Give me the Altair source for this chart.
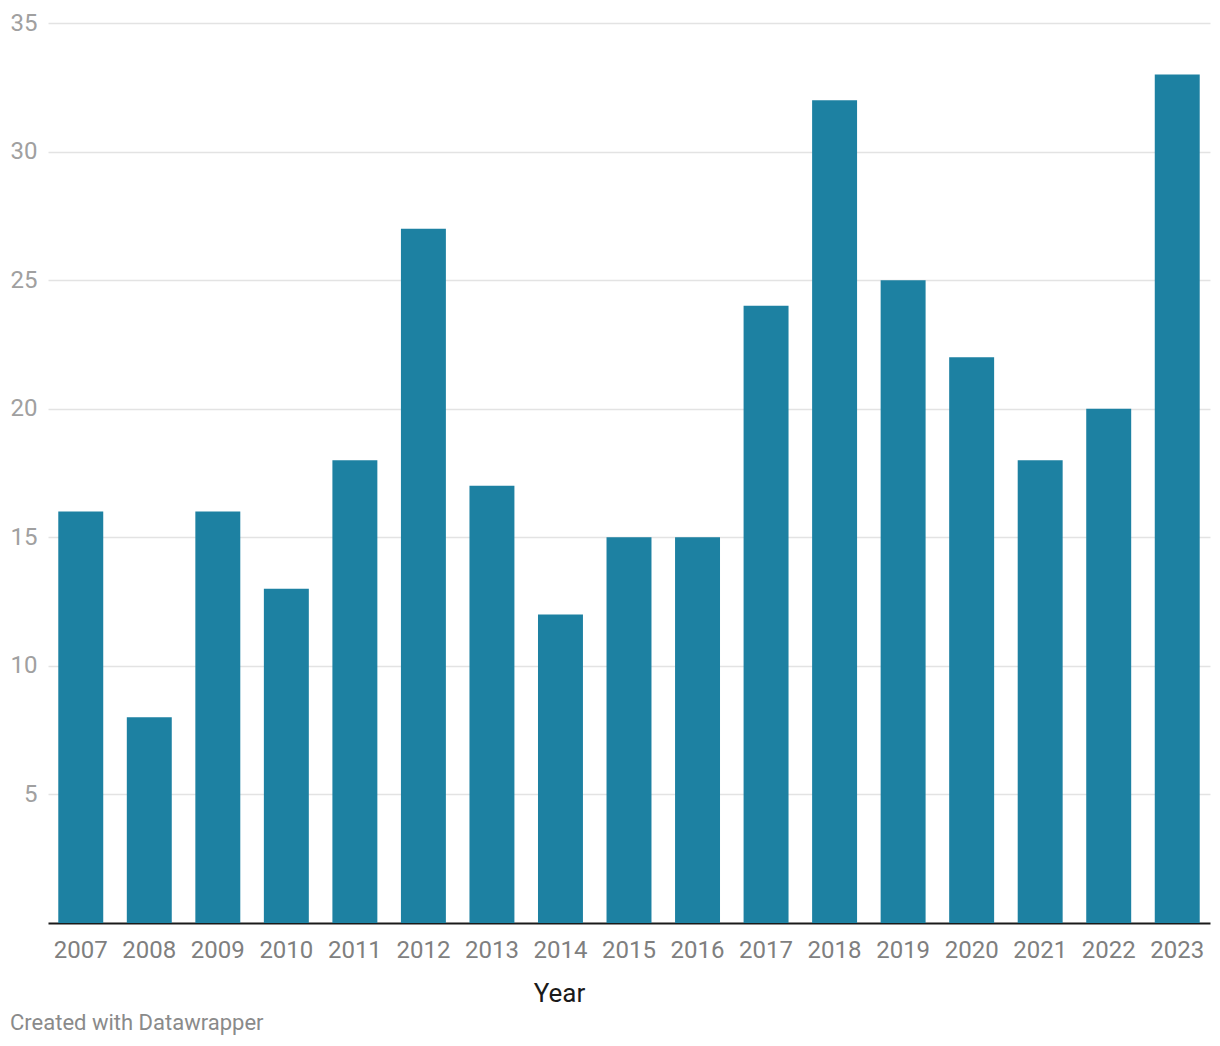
import altair as alt
import pandas as pd

years = ["2007", "2008", "2009", "2010", "2011", "2012", "2013", "2014", "2015",
         "2016", "2017", "2018", "2019", "2020", "2021", "2022", "2023"]
values = [16, 8, 16, 13, 18, 27, 17, 12, 15, 15, 24, 32, 25, 22, 18, 20, 33]
y_ticks = [5, 10, 15, 20, 25, 30, 35]
footer = ["Created with Datawrapper"]

df = pd.DataFrame({"Year": years, "Value": values})
foot_df = pd.DataFrame({"t": footer})

FONT = "Roboto"

bars = alt.Chart(df).mark_bar(color="#1d81a2").encode(
    x=alt.X("Year:N", sort=years,
            scale=alt.Scale(paddingInner=0.344, paddingOuter=0.15),
            axis=alt.Axis(title="Year", labelAngle=0, labelFont=FONT, labelFontSize=24,
                          labelColor="#7f7f7f", labelPadding=15, ticks=False,
                          domainColor="#1a1a1a", domainWidth=2,
                          titleFont=FONT, titleFontSize=26, titleFontWeight="normal",
                          titleColor="#1a1a1a", titleX=511, titleY=78,
                          titleAlign="center", titleBaseline="alphabetic")),
    y=alt.Y("Value:Q", scale=alt.Scale(domain=[0, 35], nice=False),
            axis=alt.Axis(title=None, values=y_ticks, domain=False, ticks=False,
                          labelFont=FONT, labelFontSize=24, labelColor="#a0a0a0",
                          labelPadding=11, gridColor="#e3e3e3", gridWidth=1.5)),
)

foot = alt.Chart(foot_df).mark_text(
    align="left", baseline="alphabetic", font=FONT, fontSize=22, color="#8a8a8a"
).encode(x=alt.value(-38), y=alt.value(1007), text="t:N")

chart = alt.layer(bars, foot).properties(
    width=1162, height=900,
    autosize=alt.AutoSizeParams(type="none"),
    padding={"left": 40, "top": 15, "right": 2, "bottom": 114},
).configure_view(stroke=None)

chart.save("out.html", embed_options={"renderer": "svg", "actions": False})
